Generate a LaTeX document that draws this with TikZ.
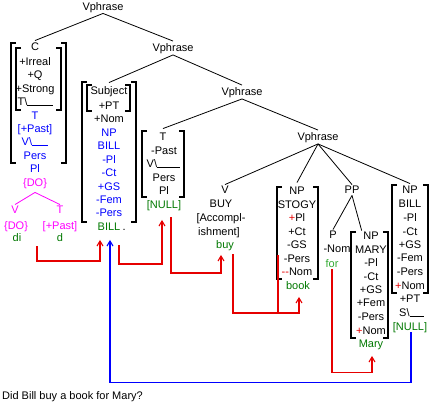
\documentclass[tikz,border=0pt]{standalone}
\usepackage{fontspec}
\setmainfont{Liberation Sans}
\usetikzlibrary{arrows.meta}
\definecolor{fblue}{RGB}{0,0,255}
\definecolor{fgreen}{RGB}{0,120,0}
\definecolor{lgreen}{RGB}{50,170,50}
\definecolor{fmag}{RGB}{255,0,255}
\definecolor{fred}{RGB}{230,0,0}
\newcommand\mylbr[3]{\draw[brk] (#1+5,#2) -- (#1,#2) -- (#1,#3) -- (#1+5,#3);}
\newcommand\myrbr[3]{\draw[brk] (#1-5,#2) -- (#1,#2) -- (#1,#3) -- (#1-5,#3);}
\begin{document}
\begin{tikzpicture}[x=1pt,y=-1pt,
  txt/.style={inner sep=1.5pt,text height=7.5pt,text depth=0pt,font=\fontsize{11}{12}\selectfont},
  vp/.style={txt,inner sep=3pt},
  tree/.style={line width=0.8pt},
  mtree/.style={line width=0.8pt,draw=fmag},
  brk/.style={line width=1.1pt},
  redln/.style={draw=fred,line width=1.1pt},
  redarr/.style={redln,-{Straight Barb[length=5pt,width=6pt]}},
  bluearr/.style={draw=fblue,line width=1.1pt,-{Straight Barb[length=5pt,width=6pt]}}]
\useasboundingbox (0,0) rectangle (430,406);
% Vphrase nodes
\node[vp] (vp1) at (103,6.5) {Vphrase};
\node[vp] (vp2) at (173,48) {Vphrase};
\node[vp] (vp3) at (242,92) {Vphrase};
\node[vp] (vp4) at (318,137) {Vphrase};
% column 1
\node[txt] (c1) at (35,47) {C};
\node[txt] at (35,62) {+Irreal};
\node[txt] at (35,75) {+Q};
\node[txt] at (35,89) {+Strong};
\node[txt,anchor=west] at (16,102) {T\textbackslash\rule{26pt}{0.8pt}};
\node[txt,text=fblue] at (35,116) {T};
\node[txt,text=fblue] at (35,129) {[+Past]};
\node[txt,text=fblue,anchor=west] at (20,142) {V\textbackslash\rule{16pt}{0.8pt}};
\node[txt,text=fblue] at (35,156) {Pers};
\node[txt,text=fblue] at (35,169) {Pl};
\node[txt,text=fmag] (dom) at (35,183) {\{DO\}};
\node[txt,text=fmag] (vm) at (15,210) {V};
\node[txt,text=fmag] (tm) at (60,210) {T};
\node[txt,text=fmag] at (16,226) {\{DO\}};
\node[txt,text=fmag] at (60,226) {[+Past]};
\node[txt,text=fgreen] (di) at (17,238) {di};
\node[txt,text=fgreen] (dd) at (60,238) {d};
\mylbr{11}{43}{163} \myrbr{66}{43}{163}
\mylbr{16}{48}{110} \myrbr{61}{48}{110}
% column 2
\node[txt] (subj) at (109,91) {Subject};
\node[txt] at (109,105.5) {+PT};
\node[txt] at (109,119) {+Nom};
\node[txt,text=fblue] at (109,133) {NP};
\node[txt,text=fblue] at (109,146) {BILL};
\node[txt,text=fblue] at (109,160) {-Pl};
\node[txt,text=fblue] at (109,173) {-Ct};
\node[txt,text=fblue] at (109,187) {+GS};
\node[txt,text=fblue] at (109,200) {-Fem};
\node[txt,text=fblue] at (109,213) {-Pers};
\node[txt,text=fgreen] (billg) at (109,227) {BILL};
\node[txt,anchor=west,inner sep=0.5pt] (dot) at (billg.east) {.};
\mylbr{82}{82}{222} \myrbr{136}{82}{222}
\mylbr{87}{85}{111} \myrbr{130}{85}{111}
% column 3
\node[txt] (t3) at (163,137) {T};
\node[txt] at (164,151) {-Past};
\node[txt,anchor=west] at (145,164) {V\textbackslash\rule{23pt}{0.8pt}};
\node[txt] at (164,178) {Pers};
\node[txt] at (164,191) {Pl};
\node[txt,text=fgreen] (null3) at (164,205) {[NULL]};
\mylbr{142}{131}{197} \myrbr{184}{131}{197}
% column 4
\node[txt] (v4) at (225,190) {V};
\node[txt] at (221,204) {BUY};
\node[txt] at (221,218) {[Accompl-};
\node[txt] at (219,232) {ishment]};
\node[txt,text=fgreen] (buyg) at (225,245) {buy};
% STOGY
\node[txt] (np5) at (297,191) {NP};
\node[txt] at (297,205) {STOGY};
\node[txt] at (297,218) {{\color{fred}+}Pl};
\node[txt] at (297,232) {+Ct};
\node[txt] at (297,245) {-GS};
\node[txt] at (297,259) {-Pers};
\node[txt] at (297,272) {{\color{fred}-{}-}Nom};
\node[txt,text=fgreen] (bookg) at (298,286) {book};
\mylbr{277}{187}{279} \myrbr{318}{187}{279}
% PP
\node[txt] (pp) at (352,190) {PP};
\node[txt] (p) at (333,235) {P};
\node[txt] at (337,249) {-Nom};
\node[txt,text=lgreen] (for) at (332,264) {for};
% MARY
\node[txt] (npm) at (371,236) {NP};
\node[txt] at (371,249.5) {MARY};
\node[txt] at (371,263) {-Pl};
\node[txt] at (371,277) {-Ct};
\node[txt] at (371,290) {+GS};
\node[txt] at (371,303) {+Fem};
\node[txt] at (371,317) {-Pers};
\node[txt] at (371,331) {{\color{fred}+}Nom};
\node[txt,text=fgreen] (maryg) at (371,344) {Mary};
\mylbr{351}{232}{338} \myrbr{388}{232}{338}
% BILL
\node[txt] (npb) at (410,190) {NP};
\node[txt] at (410,204) {BILL};
\node[txt] at (410,218) {-Pl};
\node[txt] at (410,232) {-Ct};
\node[txt] at (410,245) {+GS};
\node[txt] at (410,258) {-Fem};
\node[txt] at (410,272) {-Pers};
\node[txt] at (410,286) {{\color{fred}+}Nom};
\node[txt] at (410,299) {+PT};
\node[txt,anchor=west] at (397.5,313) {S\textbackslash\rule{14pt}{0.8pt}};
\node[txt,text=fgreen] (nullb) at (410,327) {[NULL]};
\mylbr{392}{185}{293} \myrbr{428}{185}{293}
% tree lines
\draw[tree] (vp1.south) -- ([yshift=1pt]c1.north);
\draw[tree] (vp1.south) -- (vp2.north);
\draw[tree] (vp2.south) -- ([yshift=3pt]subj.north);
\draw[tree] (vp2.south) -- (vp3.north);
\draw[tree] (vp3.south) -- ([yshift=3pt]t3.north);
\draw[tree] (vp3.south) -- (vp4.north);
\draw[tree] (vp4.south) -- (v4.north);
\draw[tree] (vp4.south) -- ([yshift=3pt]np5.north);
\draw[tree] (vp4.south) -- (pp.north);
\draw[tree] (vp4.south) -- ([yshift=1pt]npb.north);
\draw[tree] (pp.south) -- (p.north);
\draw[tree] (pp.south) -- (npm.north west);
\draw[mtree] ([yshift=-4pt]dom.south) -- (vm.north);
\draw[mtree] ([yshift=-4pt]dom.south) -- (tm.north);
% arrows
\coordinate (r1s) at (37,246);
\coordinate (r2s) at (119,245);
\coordinate (r3s) at (171,217);
\coordinate (r4s) at (233,254);
\coordinate (r4b) at (278,255);
\coordinate (r4e) at (278,313);
\draw[redarr] (r1s) -- ++(0,15) -| ([xshift=-9pt,yshift=-7.5pt]billg.south);
\draw[bluearr] ([xshift=1pt]nullb.south) -- ++(0,50) -| ([xshift=1pt,yshift=-7.5pt]billg.south);
\draw[redarr] (r2s) -- ++(0,19) -| ([xshift=-2pt,yshift=-9.5pt]null3.south);
\draw[redarr] (r3s) -- ++(0,56) -| ([xshift=-4pt,yshift=-4.5pt]buyg.south);
\draw[redarr] (r4s) -- ++(0,59) -| ([xshift=1pt,yshift=-5.5pt]bookg.south);
\draw[redln] (r4b) -- (r4e);
\draw[redarr] (for.south) -- ++(0,103) -| ([xshift=1pt,yshift=-6.5pt]maryg.south);
% caption
\node[txt,anchor=west] (q) at (0.5,396) {Did Bill buy a book for Mary?};
\end{tikzpicture}
\end{document}
